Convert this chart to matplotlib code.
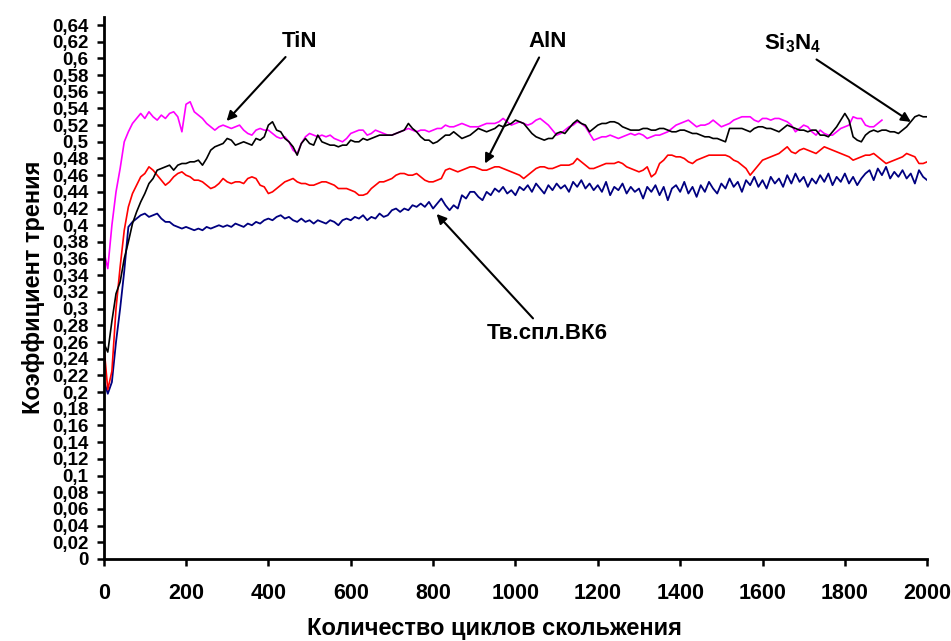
import numpy as np
import matplotlib
matplotlib.use("Agg")
import matplotlib.pyplot as plt
from matplotlib.ticker import FuncFormatter, MultipleLocator

plt.rcParams['font.family'] = ['Liberation Sans', 'DejaVu Sans']
plt.rcParams['font.weight'] = 'bold'
plt.rcParams['mathtext.fontset'] = 'custom'
plt.rcParams['mathtext.rm'] = 'Liberation Sans:bold'
plt.rcParams['mathtext.bf'] = 'Liberation Sans:bold'
plt.rcParams['mathtext.default'] = 'bf'

# number of sliding cycles, step 10
cycles = np.arange(0, 2001, 10)

# TiN (magenta), record ends near 1890 cycles
tin = [
    0.370, 0.348, 0.400, 0.440, 0.468, 0.500, 0.512, 0.522, 0.528, 0.534,
    0.528, 0.536, 0.530, 0.526, 0.532, 0.528, 0.534, 0.536, 0.530, 0.512,
    0.545, 0.548, 0.536, 0.532, 0.528, 0.522, 0.518, 0.514, 0.518, 0.520,
    0.518, 0.516, 0.518, 0.520, 0.514, 0.510, 0.508, 0.514, 0.516, 0.514,
    0.514, 0.510, 0.506, 0.504, 0.506, 0.500, 0.490, 0.486, 0.498, 0.506,
    0.510, 0.508, 0.506, 0.508, 0.506, 0.508, 0.504, 0.502, 0.500, 0.504,
    0.510, 0.512, 0.514, 0.514, 0.508, 0.510, 0.514, 0.512, 0.510, 0.508,
    0.508, 0.510, 0.512, 0.514, 0.516, 0.514, 0.512, 0.514, 0.514, 0.512,
    0.514, 0.516, 0.516, 0.520, 0.518, 0.518, 0.520, 0.522, 0.520, 0.518,
    0.518, 0.518, 0.520, 0.522, 0.522, 0.522, 0.524, 0.528, 0.524, 0.520,
    0.522, 0.524, 0.522, 0.520, 0.522, 0.526, 0.528, 0.524, 0.520, 0.514,
    0.508, 0.510, 0.514, 0.518, 0.520, 0.524, 0.522, 0.518, 0.510, 0.502,
    0.504, 0.506, 0.506, 0.508, 0.506, 0.504, 0.506, 0.508, 0.510, 0.508,
    0.510, 0.508, 0.504, 0.506, 0.508, 0.508, 0.510, 0.512, 0.516, 0.520,
    0.522, 0.524, 0.526, 0.522, 0.518, 0.520, 0.520, 0.522, 0.526, 0.522,
    0.518, 0.520, 0.522, 0.526, 0.528, 0.530, 0.530, 0.530, 0.526, 0.524,
    0.528, 0.528, 0.526, 0.528, 0.528, 0.526, 0.524, 0.520, 0.512, 0.516,
    0.520, 0.518, 0.512, 0.508, 0.514, 0.510, 0.508, 0.508, 0.512, 0.516,
    0.518, 0.520, 0.530, 0.528, 0.528, 0.520, 0.518, 0.518, 0.522, 0.526,
]

# Si3N4 (black)
si3n4 = [
    0.259, 0.248, 0.285, 0.318, 0.332, 0.360, 0.380, 0.402, 0.416, 0.428,
    0.438, 0.450, 0.456, 0.466, 0.468, 0.470, 0.472, 0.466, 0.472, 0.474,
    0.474, 0.476, 0.476, 0.478, 0.472, 0.480, 0.490, 0.494, 0.496, 0.498,
    0.504, 0.502, 0.496, 0.498, 0.500, 0.498, 0.496, 0.504, 0.502, 0.506,
    0.520, 0.524, 0.514, 0.512, 0.504, 0.500, 0.494, 0.484, 0.498, 0.504,
    0.498, 0.496, 0.508, 0.500, 0.498, 0.496, 0.496, 0.494, 0.496, 0.496,
    0.502, 0.500, 0.500, 0.504, 0.502, 0.504, 0.506, 0.508, 0.508, 0.508,
    0.508, 0.510, 0.512, 0.514, 0.522, 0.516, 0.512, 0.506, 0.502, 0.502,
    0.498, 0.500, 0.504, 0.508, 0.508, 0.512, 0.508, 0.504, 0.506, 0.508,
    0.512, 0.516, 0.514, 0.512, 0.514, 0.516, 0.520, 0.518, 0.520, 0.522,
    0.526, 0.524, 0.522, 0.516, 0.510, 0.506, 0.504, 0.502, 0.504, 0.504,
    0.510, 0.512, 0.510, 0.516, 0.522, 0.526, 0.522, 0.520, 0.512, 0.516,
    0.520, 0.522, 0.522, 0.524, 0.524, 0.522, 0.518, 0.516, 0.514, 0.514,
    0.514, 0.516, 0.516, 0.514, 0.514, 0.516, 0.516, 0.514, 0.512, 0.512,
    0.514, 0.514, 0.512, 0.510, 0.510, 0.508, 0.506, 0.506, 0.504, 0.504,
    0.502, 0.500, 0.516, 0.516, 0.516, 0.516, 0.514, 0.512, 0.516, 0.518,
    0.518, 0.516, 0.516, 0.514, 0.512, 0.516, 0.520, 0.518, 0.516, 0.514,
    0.514, 0.512, 0.514, 0.514, 0.508, 0.508, 0.506, 0.512, 0.518, 0.526,
    0.534, 0.526, 0.506, 0.502, 0.500, 0.508, 0.512, 0.514, 0.512, 0.514,
    0.514, 0.512, 0.512, 0.510, 0.514, 0.518, 0.524, 0.530, 0.532, 0.530,
    0.530,
]

# AlN (red)
aln = [
    0.259, 0.203, 0.225, 0.300, 0.350, 0.394, 0.422, 0.438, 0.448, 0.458,
    0.462, 0.470, 0.466, 0.460, 0.454, 0.448, 0.452, 0.458, 0.462, 0.464,
    0.460, 0.458, 0.454, 0.454, 0.452, 0.448, 0.444, 0.446, 0.450, 0.456,
    0.452, 0.450, 0.452, 0.452, 0.450, 0.456, 0.458, 0.456, 0.448, 0.446,
    0.438, 0.440, 0.444, 0.448, 0.452, 0.454, 0.456, 0.452, 0.450, 0.450,
    0.448, 0.448, 0.450, 0.452, 0.452, 0.450, 0.448, 0.444, 0.444, 0.444,
    0.442, 0.440, 0.436, 0.436, 0.438, 0.444, 0.448, 0.452, 0.452, 0.454,
    0.456, 0.460, 0.462, 0.462, 0.460, 0.460, 0.462, 0.458, 0.454, 0.452,
    0.452, 0.454, 0.456, 0.466, 0.468, 0.466, 0.464, 0.466, 0.468, 0.470,
    0.470, 0.468, 0.466, 0.466, 0.468, 0.470, 0.470, 0.468, 0.466, 0.464,
    0.462, 0.460, 0.456, 0.460, 0.464, 0.468, 0.470, 0.470, 0.468, 0.468,
    0.470, 0.472, 0.472, 0.472, 0.474, 0.480, 0.476, 0.472, 0.468, 0.468,
    0.470, 0.472, 0.474, 0.474, 0.474, 0.476, 0.474, 0.470, 0.468, 0.466,
    0.464, 0.466, 0.470, 0.458, 0.462, 0.474, 0.478, 0.484, 0.484, 0.482,
    0.482, 0.480, 0.476, 0.474, 0.478, 0.480, 0.482, 0.484, 0.484, 0.484,
    0.484, 0.484, 0.482, 0.478, 0.476, 0.472, 0.468, 0.460, 0.466, 0.472,
    0.478, 0.480, 0.482, 0.484, 0.486, 0.490, 0.494, 0.488, 0.486, 0.490,
    0.492, 0.490, 0.488, 0.486, 0.490, 0.494, 0.492, 0.490, 0.488, 0.486,
    0.484, 0.482, 0.478, 0.480, 0.482, 0.484, 0.484, 0.486, 0.482, 0.478,
    0.474, 0.476, 0.478, 0.480, 0.482, 0.486, 0.484, 0.482, 0.474, 0.474,
    0.476,
]

# hard alloy VK6 (navy)
vk6 = [
    0.215, 0.198, 0.212, 0.260, 0.300, 0.345, 0.398, 0.404, 0.408, 0.412,
    0.414, 0.410, 0.412, 0.414, 0.408, 0.404, 0.404, 0.400, 0.398, 0.396,
    0.398, 0.396, 0.394, 0.396, 0.394, 0.398, 0.396, 0.398, 0.400, 0.398,
    0.400, 0.398, 0.402, 0.400, 0.398, 0.402, 0.400, 0.404, 0.402, 0.406,
    0.408, 0.406, 0.410, 0.412, 0.408, 0.410, 0.406, 0.404, 0.408, 0.404,
    0.406, 0.402, 0.406, 0.404, 0.402, 0.406, 0.404, 0.400, 0.406, 0.408,
    0.406, 0.410, 0.408, 0.412, 0.406, 0.410, 0.408, 0.414, 0.410, 0.412,
    0.418, 0.420, 0.416, 0.420, 0.418, 0.424, 0.422, 0.426, 0.422, 0.428,
    0.420, 0.426, 0.432, 0.424, 0.418, 0.424, 0.420, 0.436, 0.432, 0.440,
    0.440, 0.434, 0.430, 0.440, 0.436, 0.444, 0.440, 0.446, 0.438, 0.442,
    0.436, 0.446, 0.442, 0.448, 0.440, 0.450, 0.444, 0.438, 0.448, 0.442,
    0.450, 0.444, 0.448, 0.440, 0.452, 0.446, 0.454, 0.444, 0.450, 0.442,
    0.448, 0.440, 0.452, 0.436, 0.446, 0.442, 0.450, 0.438, 0.446, 0.440,
    0.444, 0.432, 0.446, 0.440, 0.448, 0.436, 0.446, 0.430, 0.444, 0.448,
    0.440, 0.452, 0.438, 0.446, 0.434, 0.448, 0.440, 0.452, 0.444, 0.438,
    0.450, 0.444, 0.456, 0.446, 0.452, 0.440, 0.454, 0.448, 0.458, 0.446,
    0.454, 0.444, 0.458, 0.450, 0.456, 0.446, 0.460, 0.450, 0.462, 0.452,
    0.458, 0.446, 0.456, 0.450, 0.460, 0.452, 0.462, 0.448, 0.458, 0.452,
    0.462, 0.450, 0.458, 0.448, 0.456, 0.462, 0.466, 0.454, 0.468, 0.460,
    0.470, 0.456, 0.464, 0.458, 0.466, 0.456, 0.462, 0.450, 0.466, 0.458,
    0.454,
]

fig = plt.figure(figsize=(9.51, 6.41), dpi=100)
ax = fig.add_axes([0.109, 0.128, 0.866, 0.846])

ax.plot(cycles[:len(vk6)], vk6, color='#000080', lw=1.3)
ax.plot(cycles[:len(aln)], aln, color='#ff0000', lw=1.2)
ax.plot(cycles[:len(tin)], tin, color='#ff00ff', lw=1.2)
ax.plot(cycles[:len(si3n4)], si3n4, color='black', lw=1.2)

ax.set_xlim(0, 2000)
ax.set_ylim(0, 0.65)
ax.xaxis.set_major_locator(MultipleLocator(200))
ax.yaxis.set_major_locator(MultipleLocator(0.02))
ax.yaxis.set_major_formatter(FuncFormatter(lambda v, p: f"{round(v, 2):g}".replace('.', ',')))

for s in ['top', 'right']:
    ax.spines[s].set_visible(False)
for s in ['left', 'bottom']:
    ax.spines[s].set_linewidth(2)
ax.tick_params(direction='out', length=5, width=1.8)
ax.tick_params(axis='y', labelsize=13.5, pad=6)
ax.tick_params(axis='x', labelsize=15.5, pad=12)

ax.set_xlabel("Количество циклов скольжения", fontsize=17, fontweight='bold', labelpad=10)
ax.xaxis.label.set_x(0.474)
ax.set_ylabel("Коэффициент трения", fontsize=17, fontweight='bold', labelpad=5)

arrow = dict(arrowstyle='-|>', color='black', lw=1.5, mutation_scale=14)
ax.annotate("TiN", xy=(294, 0.5225), xytext=(476, 0.620), ha='center', va='center',
            fontsize=16, fontweight='bold', arrowprops=arrow)
ax.annotate("AlN", xy=(923, 0.471), xytext=(1077, 0.620), ha='center', va='center',
            fontsize=16, fontweight='bold', arrowprops=arrow)
ax.annotate("Si$_3$N$_4$", xy=(1966, 0.522), xytext=(1672, 0.618), ha='center', va='center',
            fontsize=16, fontweight='bold', arrowprops=arrow)
ax.annotate("Тв.спл.ВК6", xy=(804, 0.416), xytext=(1077, 0.270), ha='center', va='center',
            fontsize=16, fontweight='bold', arrowprops=arrow)

fig.savefig("out.png", dpi=100)
